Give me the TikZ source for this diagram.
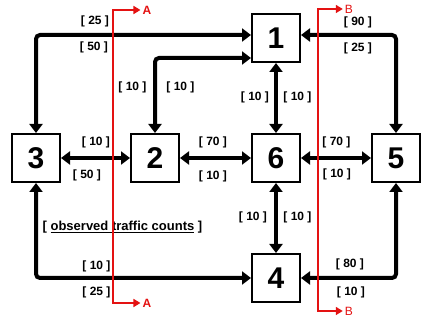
\documentclass[tikz,border=0pt]{standalone}
\usepackage{fontspec}
\setmainfont{Liberation Sans}
\usetikzlibrary{arrows.meta}
\definecolor{cutred}{RGB}{228,18,18}

\begin{document}
\begin{tikzpicture}[x=1pt, y=-1pt,
    box/.style={draw, rectangle, line width=2pt, minimum size=48pt, inner sep=0pt,
                font=\fontsize{30}{30}\selectfont\bfseries},
    flow/.style={line width=4pt, rounded corners=4pt,
                {Triangle[width=13pt,length=9pt]}-{Triangle[width=13pt,length=9pt]}},
    cutline/.style={cutred, line width=1.6pt,
                {Triangle[width=8pt,length=7pt]}-{Triangle[width=8pt,length=7pt]}},
    count/.style={font=\fontsize{12}{12}\selectfont\bfseries, inner sep=0pt},
    cutname/.style={text=cutred, font=\fontsize{12}{12}\selectfont, inner sep=2pt}]
    \fill[white] (0,0) rectangle (440,320);
    % zones
    \node[box] (n1) at (276,38)  {1};
    \node[box] (n2) at (155,158) {2};
    \node[box] (n3) at (36,158)  {3};
    \node[box] (n4) at (276,278) {4};
    \node[box] (n5) at (396,158) {5};
    \node[box] (n6) at (276,158) {6};
    % links
    \foreach \a/\b in {n3/n2, n2/n6, n6/n5, n1/n6, n6/n4}
        \draw[flow] (\a) -- (\b);
    \draw[flow] (n3.north) |- ([yshift=3pt]n1.west);
    \draw[flow] (n2.north) |- ([yshift=-20pt]n1.west);
    \draw[flow] (n5.north) |- ([yshift=3pt]n1.east);
    \draw[flow] (n3.south) |- (n4.west);
    \draw[flow] (n5.south) |- (n4.east);
    % counts
    \node[count] (c31a) at (95,21)    {[ 25 ]};
    \node[count] (c31b) at (94,47.5)  {[ 50 ]};
    \node[count] (c21a) at (132.5,87.5) {[ 10 ]};
    \node[count] (c21b) at (180.5,87.5) {[ 10 ]};
    \node[count] (c51a) at (358,22)   {[ 90 ]};
    \node[count] (c51b) at (358,48)   {[ 25 ]};
    \node[count] (c16a) at (255,97)   {[ 10 ]};
    \node[count] (c16b) at (297.5,97) {[ 10 ]};
    \node[count] (c32a) at (96,142.5) {[ 10 ]};
    \node[count] (c32b) at (87,175.5) {[ 50 ]};
    \node[count] (c26a) at (213,142.5) {[ 70 ]};
    \node[count] (c26b) at (213,176)  {[ 10 ]};
    \node[count] (c65a) at (336.5,142.5) {[ 70 ]};
    \node[count] (c65b) at (337,174)  {[ 10 ]};
    \node[count] (c64a) at (253,217)  {[ 10 ]};
    \node[count] (c64b) at (297.5,217) {[ 10 ]};
    \node[count] (c34a) at (96.5,266) {[ 10 ]};
    \node[count] (c34b) at (96.5,292) {[ 25 ]};
    \node[count] (c54a) at (350,264)  {[ 80 ]};
    \node[count] (c54b) at (351,292.5) {[ 10 ]};
    \node[count, font=\fontsize{13}{13}\selectfont\bfseries] (note) at (122.5,227)
        {[ \underline{observed traffic counts} ]};
    % screen lines
    \node[cutname, font=\fontsize{12}{12}\selectfont\bfseries] (At) at (147,10)  {A};
    \node[cutname, font=\fontsize{12}{12}\selectfont\bfseries] (Ab) at (147,303) {A};
    \node[cutname] (Bt) at (349,9)   {B};
    \node[cutname] (Bb) at (349,311) {B};
    \draw[cutline] (At.west) -| (113,303) |- (Ab.west);
    \draw[cutline] (Bt.west) -| (318,311) |- (Bb.west);
\end{tikzpicture}
\end{document}
